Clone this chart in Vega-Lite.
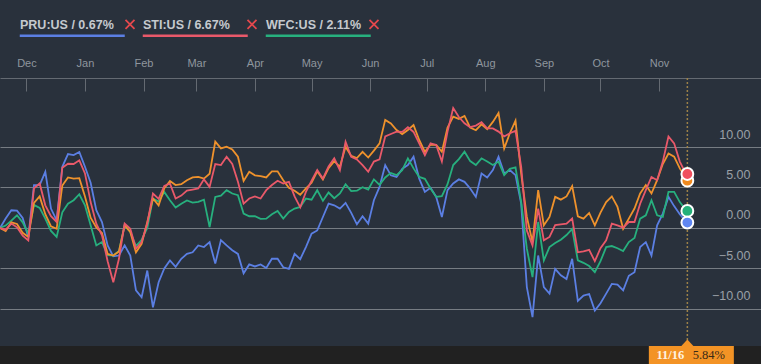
{
"$schema":"https://vega.github.io/schema/vega-lite/v6.json",
"width":761,"height":346,"autosize":"none",
"padding":{"left":0,"top":0,"right":0,"bottom":18},
"background":"#212121",
"config":{"view":{"stroke":null,"fill":"#29313c"},"font":"Liberation Sans"},
"datasets":{
"prices":[
{"d":"2016-11-17","P":0,"S":0,"W":0,"O":0},
{"d":"2016-11-20","P":1.16,"S":-0.2,"W":0.3,"O":-0.37},
{"d":"2016-11-23","P":2.19,"S":0.54,"W":0.9,"O":0.7},
{"d":"2016-11-26","P":2.15,"S":0.08,"W":1.57,"O":0.5},
{"d":"2016-11-29","P":1.24,"S":-0.95,"W":0.7,"O":-0.6},
{"d":"2016-12-02","P":-1.1,"S":-1.53,"W":-0.7,"O":-1.1},
{"d":"2016-12-05","P":5.29,"S":4.9,"W":2.85,"O":3.1},
{"d":"2016-12-08","P":5.29,"S":5.5,"W":2.48,"O":3.9},
{"d":"2016-12-11","P":6.94,"S":2.8,"W":1.16,"O":1.7},
{"d":"2016-12-14","P":2.4,"S":1.45,"W":-0.37,"O":0.2},
{"d":"2016-12-17","P":0.95,"S":0.74,"W":-1.1,"O":-0.1},
{"d":"2016-12-20","P":7.56,"S":7.44,"W":1.94,"O":5.25},
{"d":"2016-12-23","P":9.13,"S":7.93,"W":3.0,"O":6.24},
{"d":"2016-12-26","P":9.0,"S":7.9,"W":3.43,"O":6.1},
{"d":"2016-12-29","P":9.38,"S":8.35,"W":4.17,"O":6.15},
{"d":"2017-01-01","P":7.56,"S":6.74,"W":2.8,"O":3.9},
{"d":"2017-01-04","P":5.58,"S":3.2,"W":0.33,"O":1.28},
{"d":"2017-01-07","P":2.19,"S":0.54,"W":-2.15,"O":0.08},
{"d":"2017-01-10","P":0.74,"S":-0.9,"W":-1.74,"O":-0.6},
{"d":"2017-01-13","P":-2.15,"S":-4.1,"W":-3.35,"O":-3.2},
{"d":"2017-01-16","P":-3.5,"S":-6.7,"W":-3.4,"O":-3.4},
{"d":"2017-01-19","P":-3.4,"S":-3.8,"W":-2.85,"O":-2.9},
{"d":"2017-01-22","P":-2.15,"S":0.54,"W":0.33,"O":0.33},
{"d":"2017-01-25","P":-3.4,"S":-0.08,"W":-0.5,"O":-0.5},
{"d":"2017-01-28","P":-7.7,"S":-2.56,"W":-2.23,"O":-3.0},
{"d":"2017-01-31","P":-8.55,"S":-1.74,"W":-1.45,"O":-1.95},
{"d":"2017-02-03","P":-5.25,"S":0.54,"W":0,"O":0.74},
{"d":"2017-02-06","P":-9.8,"S":4.26,"W":3.64,"O":3.64},
{"d":"2017-02-09","P":-6.7,"S":3.6,"W":3.26,"O":2.8},
{"d":"2017-02-12","P":-5.0,"S":5.2,"W":4.46,"O":4.9},
{"d":"2017-02-15","P":-4.0,"S":5.5,"W":3.43,"O":5.8},
{"d":"2017-02-18","P":-4.8,"S":3.64,"W":2.52,"O":5.3},
{"d":"2017-02-21","P":-3.8,"S":4.0,"W":3.0,"O":5.4},
{"d":"2017-02-24","P":-3.2,"S":4.63,"W":3.4,"O":5.9},
{"d":"2017-02-27","P":-3.0,"S":4.75,"W":3.14,"O":6.24},
{"d":"2017-03-02","P":-2.15,"S":4.88,"W":3.22,"O":6.3},
{"d":"2017-03-05","P":-2.35,"S":6.0,"W":3.5,"O":6.1},
{"d":"2017-03-08","P":-1.75,"S":5.08,"W":0.12,"O":6.7},
{"d":"2017-03-11","P":-4.4,"S":7.9,"W":3.84,"O":10.66},
{"d":"2017-03-14","P":-1.5,"S":7.77,"W":4.0,"O":9.83},
{"d":"2017-03-17","P":-2.15,"S":8.8,"W":4.67,"O":10.04},
{"d":"2017-03-20","P":-2.75,"S":7.9,"W":4.26,"O":9.7},
{"d":"2017-03-23","P":-3.2,"S":5.7,"W":4.05,"O":8.8},
{"d":"2017-03-26","P":-5.6,"S":3.0,"W":1.78,"O":5.8},
{"d":"2017-03-29","P":-4.5,"S":3.64,"W":1.45,"O":6.94},
{"d":"2017-04-01","P":-4.75,"S":3.9,"W":1.45,"O":6.5},
{"d":"2017-04-04","P":-4.5,"S":3.64,"W":1.12,"O":6.4},
{"d":"2017-04-07","P":-4.95,"S":4.67,"W":1.16,"O":6.24},
{"d":"2017-04-10","P":-3.8,"S":5.3,"W":1.7,"O":7.0},
{"d":"2017-04-13","P":-3.8,"S":5.83,"W":2.1,"O":7.0},
{"d":"2017-04-16","P":-4.85,"S":5.5,"W":1.16,"O":5.9},
{"d":"2017-04-19","P":-5.05,"S":5.7,"W":1.98,"O":4.96},
{"d":"2017-04-22","P":-3.2,"S":3.9,"W":2.4,"O":4.6},
{"d":"2017-04-25","P":-3.85,"S":2.55,"W":2.6,"O":4.1},
{"d":"2017-04-28","P":-2.35,"S":4.46,"W":3.64,"O":4.88},
{"d":"2017-05-01","P":-0.7,"S":5.83,"W":3.5,"O":5.58},
{"d":"2017-05-04","P":-0.3,"S":7.15,"W":4.67,"O":7.0},
{"d":"2017-05-07","P":1.36,"S":6.1,"W":3.35,"O":6.0},
{"d":"2017-05-10","P":3.0,"S":7.6,"W":4.38,"O":7.4},
{"d":"2017-05-13","P":2.8,"S":8.6,"W":3.68,"O":8.26},
{"d":"2017-05-16","P":2.4,"S":7.15,"W":4.26,"O":7.56},
{"d":"2017-05-19","P":3.1,"S":10.66,"W":5.4,"O":10.04},
{"d":"2017-05-22","P":1.86,"S":8.8,"W":4.55,"O":8.9},
{"d":"2017-05-25","P":0.45,"S":8.47,"W":4.6,"O":8.64},
{"d":"2017-05-28","P":1.45,"S":7.77,"W":5.04,"O":9.4},
{"d":"2017-05-31","P":0.54,"S":6.94,"W":4.75,"O":8.7},
{"d":"2017-06-03","P":3.43,"S":8.2,"W":6.0,"O":9.55},
{"d":"2017-06-06","P":5.08,"S":8.47,"W":5.33,"O":10.45},
{"d":"2017-06-09","P":7.77,"S":11.3,"W":6.24,"O":13.35},
{"d":"2017-06-12","P":6.5,"S":11.6,"W":6.8,"O":12.9},
{"d":"2017-06-15","P":6.3,"S":11.9,"W":6.53,"O":12.1},
{"d":"2017-06-18","P":7.3,"S":11.86,"W":7.15,"O":11.6},
{"d":"2017-06-21","P":7.77,"S":12.44,"W":8.6,"O":12.1},
{"d":"2017-06-24","P":8.8,"S":11.86,"W":7.36,"O":12.7},
{"d":"2017-06-27","P":6.1,"S":10.45,"W":6.3,"O":10.87},
{"d":"2017-06-30","P":4.46,"S":9.0,"W":6.07,"O":9.4},
{"d":"2017-07-03","P":4.96,"S":10.45,"W":4.88,"O":10.3},
{"d":"2017-07-06","P":3.84,"S":10.25,"W":3.84,"O":10.25},
{"d":"2017-07-09","P":1.36,"S":8.2,"W":3.93,"O":9.4},
{"d":"2017-07-12","P":4.67,"S":11.9,"W":5.4,"O":12.4},
{"d":"2017-07-15","P":5.5,"S":14.8,"W":7.77,"O":13.76},
{"d":"2017-07-18","P":6.0,"S":13.7,"W":8.5,"O":13.47},
{"d":"2017-07-21","P":5.7,"S":12.93,"W":9.42,"O":13.84},
{"d":"2017-07-24","P":4.88,"S":12.44,"W":8.26,"O":12.4},
{"d":"2017-07-27","P":3.84,"S":12.64,"W":7.77,"O":12.07},
{"d":"2017-07-30","P":6.74,"S":13.06,"W":8.6,"O":12.8},
{"d":"2017-08-02","P":6.24,"S":12.3,"W":8.2,"O":12.2},
{"d":"2017-08-05","P":7.15,"S":12.3,"W":7.77,"O":13.1},
{"d":"2017-08-08","P":8.8,"S":11.9,"W":8.2,"O":14.2},
{"d":"2017-08-11","P":6.74,"S":11.3,"W":6.53,"O":9.83},
{"d":"2017-08-14","P":7.15,"S":11.7,"W":7.3,"O":11.7},
{"d":"2017-08-17","P":6.53,"S":12.0,"W":7.48,"O":13.26},
{"d":"2017-08-20","P":3.0,"S":7.56,"W":3.2,"O":6.7},
{"d":"2017-08-23","P":-7.3,"S":-0.3,"W":-2.56,"O":1.36},
{"d":"2017-08-26","P":-11.0,"S":-2.15,"W":-6.07,"O":-1.74},
{"d":"2017-08-29","P":-3.4,"S":2.4,"W":0.74,"O":4.67},
{"d":"2017-09-01","P":-7.3,"S":-1.53,"W":-4.0,"O":0.33},
{"d":"2017-09-04","P":-8.1,"S":-1.1,"W":-2.36,"O":1.36},
{"d":"2017-09-07","P":-5.05,"S":0.37,"W":-1.86,"O":3.84},
{"d":"2017-09-10","P":-5.85,"S":0.45,"W":-1.45,"O":3.5},
{"d":"2017-09-13","P":-6.3,"S":0.54,"W":-0.87,"O":3.9},
{"d":"2017-09-16","P":-3.8,"S":1.16,"W":-0.12,"O":5.16},
{"d":"2017-09-19","P":-9.0,"S":-3.0,"W":-4.0,"O":1.45},
{"d":"2017-09-22","P":-8.35,"S":-2.9,"W":-4.3,"O":1.16},
{"d":"2017-09-25","P":-8.15,"S":-2.7,"W":-4.7,"O":1.86},
{"d":"2017-09-28","P":-10.2,"S":-4.1,"W":-5.45,"O":0.33},
{"d":"2017-10-01","P":-9.3,"S":-2.5,"W":-4.1,"O":1.9},
{"d":"2017-10-04","P":-8.1,"S":-1.53,"W":-2.36,"O":3.2},
{"d":"2017-10-07","P":-6.9,"S":0.54,"W":-2.23,"O":3.9},
{"d":"2017-10-10","P":-7.0,"S":0.33,"W":-2.5,"O":2.6},
{"d":"2017-10-13","P":-7.7,"S":0.04,"W":-2.85,"O":-0.1},
{"d":"2017-10-16","P":-5.9,"S":0.74,"W":-1.74,"O":1.16},
{"d":"2017-10-19","P":-5.45,"S":0.74,"W":-1.24,"O":2.4},
{"d":"2017-10-22","P":-2.35,"S":3.0,"W":1.16,"O":4.26},
{"d":"2017-10-25","P":-1.75,"S":4.67,"W":1.57,"O":5.3},
{"d":"2017-10-28","P":-3.4,"S":6.3,"W":3.43,"O":4.26},
{"d":"2017-10-31","P":0.33,"S":5.9,"W":1.57,"O":5.9},
{"d":"2017-11-03","P":1.78,"S":8.2,"W":1.36,"O":7.9},
{"d":"2017-11-06","P":3.84,"S":11.3,"W":4.46,"O":9.2},
{"d":"2017-11-09","P":2.7,"S":10.45,"W":4.46,"O":8.8},
{"d":"2017-11-12","P":1.7,"S":8.2,"W":3.2,"O":7.36},
{"d":"2017-11-15","P":0.87,"S":6.8,"W":2.3,"O":6.24},
{"d":"2017-11-16","P":0.67,"S":6.67,"W":2.11,"O":5.84}
],
"ends":[
{"e":"Oe","d":"2017-11-16","v":5.84},
{"e":"We","d":"2017-11-16","v":2.11},
{"e":"Pe","d":"2017-11-16","v":0.67},
{"e":"Se","d":"2017-11-16","v":6.67}
],
"tag":[{"d":"2017-11-16","v":5.84,"lbl":"5.84%"}]
},
"layer":[
{
"data":{"name":"tag"},
"mark":{"type":"rule","color":"#9c8148","strokeWidth":1.5,"strokeDash":[2,2]},
"encoding":{
"x":{"field":"d","type":"temporal"},
"y":{"datum":18.52,"type":"quantitative"},
"y2":{"datum":-14.57}
}
},
{
"data":{"name":"prices"},
"transform":[{"fold":["P","W","O","S"],"as":["k","v"]}],
"mark":{"type":"line","strokeWidth":1.8},
"encoding":{
"x":{"field":"d","type":"temporal",
"scale":{"type":"utc","domain":[{"year":2016,"month":11,"date":17,"utc":true},{"year":2017,"month":12,"date":25,"utc":true}]},
"axis":{"orient":"top","offset":-78,"title":null,"format":"%b",
"values":[{"year":2016,"month":12,"date":1,"utc":true},{"year":2017,"month":1,"date":1,"utc":true},{"year":2017,"month":2,"date":1,"utc":true},{"year":2017,"month":3,"date":1,"utc":true},{"year":2017,"month":4,"date":1,"utc":true},{"year":2017,"month":5,"date":1,"utc":true},{"year":2017,"month":6,"date":1,"utc":true},{"year":2017,"month":7,"date":1,"utc":true},{"year":2017,"month":8,"date":1,"utc":true},{"year":2017,"month":9,"date":1,"utc":true},{"year":2017,"month":10,"date":1,"utc":true},{"year":2017,"month":11,"date":1,"utc":true}],
"domain":true,"domainColor":"#646a72","domainWidth":1,"ticks":true,"tickColor":"#646a72","tickSize":-13,"tickWidth":1,
"labelPadding":28,"labelBaseline":"middle","labelColor":"#8f969e","labelFontSize":11,"labelFlush":false,"grid":false}},
"y":{"field":"v","type":"quantitative",
"scale":{"domain":[-14.57,28.15],"nice":false,"zero":false},
"axis":{"orient":"right","title":null,"values":[-10,-5,0,5,10],"format":".2f",
"domain":false,"ticks":false,"grid":true,"gridColor":"#767c83","gridWidth":1,
"labelColor":"#9aa0a7","labelFontSize":12.5,"labelAlign":"right","labelPadding":-11,"labelOffset":-13,"labelBaseline":"middle","labelFlush":false}},
"color":{"field":"k","type":"nominal",
"scale":{"domain":["P","S","W","O"],"range":["#5b7fe3","#e9596a","#27b07e","#ef922c"]},
"legend":{"orient":"none","legendX":7.5,"legendY":18,"direction":"horizontal","title":null,"values":["P","S","W"],
"labelExpr":"datum.value=='P'?'PRU:US / 0.67%':datum.value=='S'?'STI:US / 6.67%':'WFC:US / 2.11%'",
"labelFont":"Liberation Sans","labelFontWeight":"bold","labelFontSize":12.5,"labelColor":"#c5c9ce","labelOffset":0,
"symbolType":"M6,11H111","symbolSize":4,"symbolStrokeWidth":2.5,"columnPadding":0}}
}
},
{
"data":{"name":"ends"},
"mark":{"type":"point","filled":true,"size":140,"stroke":"#ffffff","strokeWidth":2,"opacity":1},
"encoding":{
"x":{"field":"d","type":"temporal"},
"y":{"field":"v","type":"quantitative"},
"fill":{"field":"e","type":"nominal",
"scale":{"domain":["Pe","Se","We","Oe"],"range":["#5f86f2","#f0505f","#24b07a","#f08a1f"]},
"legend":{"orient":"none","legendX":128,"legendY":22,"direction":"horizontal","title":null,"values":["Pe","Se","We"],
"labelExpr":"''","labelFontSize":1,"labelOffset":0,
"symbolType":"M-4.5,-4.5L4.5,4.5M-4.5,4.5L4.5,-4.5","symbolSize":4,"symbolStrokeWidth":1.8,"symbolStrokeColor":"#e5484d","columnPadding":104}}
}
},
{
"data":{"name":"tag"},
"mark":{"type":"rect","width":85,"height":18,"xOffset":4,"color":"#f39325"},
"encoding":{
"x":{"field":"d","type":"temporal"},
"y":{"datum":-15.68,"type":"quantitative"}
}
},
{
"data":{"name":"tag"},
"mark":{"type":"point","shape":"M-1,0L0,-1.1L1,0Z","size":144,"filled":true,"color":"#f39325","opacity":1,"strokeWidth":0},
"encoding":{
"x":{"field":"d","type":"temporal"},
"y":{"datum":-14.57,"type":"quantitative"}
}
},
{
"data":{"name":"tag"},
"mark":{"type":"text","font":"Liberation Serif","fontSize":12.5,"fontWeight":"bold","color":"#fff3e2","baseline":"middle","align":"center","dx":-17},
"encoding":{
"x":{"field":"d","type":"temporal"},
"y":{"datum":-15.68,"type":"quantitative"},
"text":{"field":"d","type":"temporal","timeUnit":"utcmonthdate","format":"%m/%d"}
}
},
{
"data":{"name":"tag"},
"mark":{"type":"text","font":"Liberation Serif","fontSize":12.5,"color":"#3a2a16","baseline":"middle","align":"center","dx":21.5},
"encoding":{
"x":{"field":"d","type":"temporal"},
"y":{"datum":-15.68,"type":"quantitative"},
"text":{"field":"lbl","type":"nominal"}
}
}
]
}
